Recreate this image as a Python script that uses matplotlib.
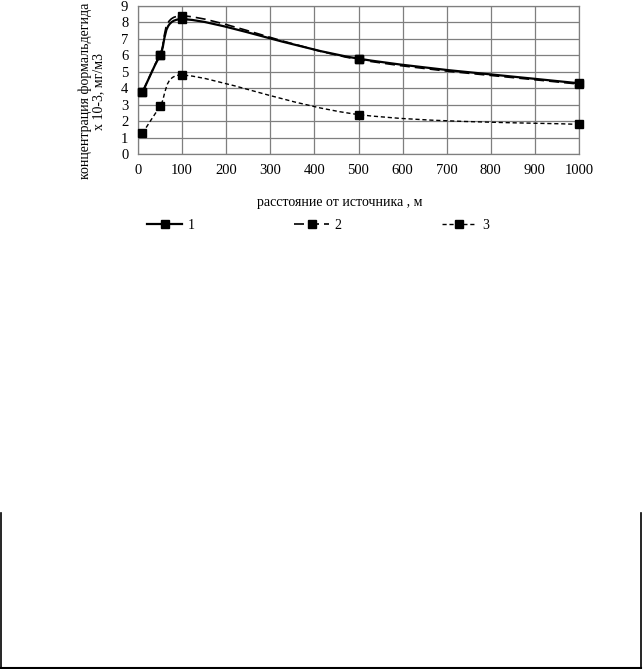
import numpy as np
import matplotlib
matplotlib.use("Agg")
import matplotlib.pyplot as plt
from matplotlib.path import Path
from matplotlib.patches import PathPatch
from matplotlib.lines import Line2D

plt.rcParams['font.family'] = ['Liberation Serif', 'DejaVu Serif']

# data
distance = [10, 50, 100, 500, 1000]
series_1 = [3.75, 6.0, 8.2, 5.8, 4.3]
series_2 = [3.75, 6.05, 8.4, 5.75, 4.25]
series_3 = [1.25, 2.9, 4.8, 2.4, 1.8]
labels = ['1', '2', '3']
x_ticks = [0, 100, 200, 300, 400, 500, 600, 700, 800, 900, 1000]
y_ticks = [0, 1, 2, 3, 4, 5, 6, 7, 8, 9]

#-------------------------------------------------

def smooth_path(ax, xs, ys):
    # Excel-like smoothed line: bezier segments built in pixel space
    pts = ax.transData.transform(np.column_stack([xs, ys]))
    n = len(pts)
    verts = [pts[0]]
    codes = [Path.MOVETO]
    for i in range(n - 1):
        p0 = pts[max(i - 1, 0)]
        p1 = pts[i]
        p2 = pts[i + 1]
        p3 = pts[min(i + 2, n - 1)]
        d12 = np.hypot(*(p2 - p1))
        d02 = np.hypot(*(p2 - p0))
        d13 = np.hypot(*(p3 - p1))
        f1 = 1/6 if d02/6 < d12/2 else d12/(2*d02)
        f2 = 1/6 if d13/6 < d12/2 else d12/(2*d13)
        c1 = p1 + (p2 - p0)*f1
        c2 = p2 - (p3 - p1)*f2
        verts += [c1, c2, p2]
        codes += [Path.CURVE4]*3
    verts = ax.transData.inverted().transform(np.array(verts))
    return Path(verts, codes)

#-------------------------------------------------

W, H = 643, 669
fig = plt.figure(figsize=(W/100, H/100), dpi=100)
left, right, top, bottom = 138, 579, 6, 154
ax = fig.add_axes([left/W, 1 - bottom/H, (right - left)/W, (bottom - top)/H])

ax.set_xlim(0, 1000)
ax.set_ylim(0, 9)
ax.set_xticks(x_ticks)
ax.set_yticks(y_ticks)
ax.tick_params(length=0, labelsize=10.5, pad=7)
ax.grid(True, color='#7f7f7f', linewidth=0.9)
ax.set_axisbelow(True)
for s in ax.spines.values():
    s.set_color('#7f7f7f')
    s.set_linewidth(0.9)

styles = [
    dict(linestyle='-', linewidth=1.6),
    dict(linestyle=(0, (6, 3)), linewidth=1.2),
    dict(linestyle=(0, (3, 2)), linewidth=1.0),
]
handles = []
for ys, st, lab in zip([series_1, series_2, series_3], styles, labels):
    path = smooth_path(ax, distance, ys)
    ax.add_patch(PathPatch(path, facecolor='none', edgecolor='black',
                           linestyle=st['linestyle'], linewidth=st['linewidth'],
                           clip_on=False, zorder=3))
    ax.plot(distance, ys, linestyle='none', marker='s', markersize=6,
            color='black', clip_on=False, zorder=4)
    handles.append(Line2D([], [], color='black', marker='s', markersize=6, **st))

fig.text(340/W, 1 - 202/H, 'расстояние от источника , м', ha='center', va='center',
         fontsize=10)
fig.text(92/W, 1 - 91/H, 'концентрация формальдегида\nх 10-3, мг/м3',
         rotation=90, ha='center', va='center', fontsize=10, linespacing=1.05)

fig.legend(handles, labels, loc='center', bbox_to_anchor=(318/W, 1 - 225/H),
           ncol=3, frameon=False, fontsize=10, handlelength=2.5,
           columnspacing=7.2, handletextpad=0.4)

# frame fragment at the bottom of the page
fig.add_artist(Line2D([0.6/W, 0.6/W], [1 - 513/H, 1 - 668/H], color='black', linewidth=1.2))
fig.add_artist(Line2D([641/W, 641/W], [1 - 513/H, 1 - 668/H], color='black', linewidth=1.2))
fig.add_artist(Line2D([0.6/W, 641/W], [1 - 668/H, 1 - 668/H], color='black', linewidth=1.5))

fig.savefig('out.png', dpi=100)
